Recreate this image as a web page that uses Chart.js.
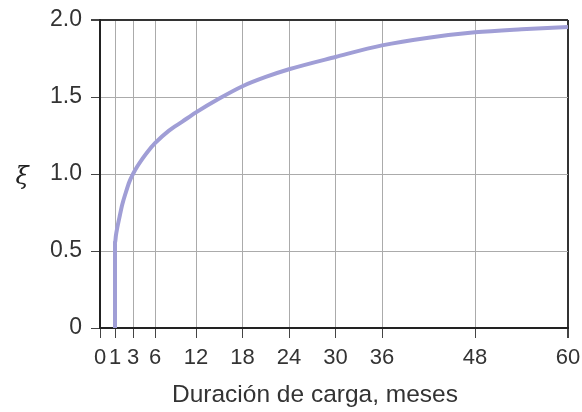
<!DOCTYPE html>
<html>
<head>
<meta charset="utf-8">
<script src="https://cdn.jsdelivr.net/npm/chart.js@4"></script>
<style>
  html, body { margin: 0; padding: 0; background: #fff; }
  #wrap { width: 582px; height: 412px; }
</style>
</head>
<body>
<div id="wrap"><canvas id="chart" width="582" height="412"></canvas></div>
<script>
// Data
const months = [1, 1, 1.1, 1.25, 1.5, 1.8, 2.2, 2.6, 3, 3.6, 4.3, 5, 6, 8, 10, 12, 15, 18, 21, 24, 30, 36, 42, 48, 54, 60];
const xi = [0, 0.55, 0.6, 0.65, 0.72, 0.8, 0.88, 0.95, 1.0, 1.05, 1.1, 1.145, 1.2, 1.28, 1.34, 1.4, 1.49, 1.57, 1.63, 1.68, 1.76, 1.835, 1.885, 1.92, 1.94, 1.955];
const xTicks = [0, 1, 3, 6, 12, 18, 24, 30, 36, 48, 60];
const yTicks = [0, 0.5, 1.0, 1.5, 2.0];
const xTitle = "Duración de carga, meses";
const yTitle = "ξ";

// The printed axis is stretched near the start (0..12 months)
const stretchKnots = [[0, 0], [1, 15], [3, 33], [6, 55], [12, 96], [60, 468]];

function warp(v) {
  for (let i = 1; i < stretchKnots.length; i++) {
    const a = stretchKnots[i - 1], b = stretchKnots[i];
    if (v <= b[0] || i === stretchKnots.length - 1) {
      return a[1] + (v - a[0]) * (b[1] - a[1]) / (b[0] - a[0]);
    }
  }
}
function unwarp(p) {
  for (let i = 1; i < stretchKnots.length; i++) {
    const a = stretchKnots[i - 1], b = stretchKnots[i];
    if (p <= b[1] || i === stretchKnots.length - 1) {
      return a[0] + (p - a[1]) * (b[0] - a[0]) / (b[1] - a[1]);
    }
  }
}

class StretchScale extends Chart.LinearScale {
  getPixelForValue(value) {
    if (value === null || value === undefined) return NaN;
    return this.getPixelForDecimal((warp(value) - warp(this.min)) / (warp(this.max) - warp(this.min)));
  }
  getValueForPixel(pixel) {
    const d = this.getDecimalForPixel(pixel);
    return unwarp(warp(this.min) + d * (warp(this.max) - warp(this.min)));
  }
}
StretchScale.id = "stretch";
StretchScale.defaults = Chart.LinearScale.defaults;
Chart.register(StretchScale);

const fontFamily = "'Liberation Sans', Arial, Helvetica, sans-serif";

// axis titles: xi at the left, x title sits a bit left of the plot centre
const axisTitles = {
  id: "axisTitles",
  afterDraw(chart) {
    const ctx = chart.ctx;
    const y = chart.scales.y.getPixelForValue(1.0);
    ctx.save();
    ctx.font = "italic 24px 'DejaVu Serif', 'Liberation Serif', serif";
    ctx.fillStyle = "#222";
    ctx.textAlign = "center";
    ctx.textBaseline = "middle";
    ctx.fillText(yTitle, 22, y + 4);

    ctx.font = "24.5px " + fontFamily;
    ctx.fillStyle = "#333";
    ctx.fillText(xTitle, chart.chartArea.left + 215, chart.chartArea.bottom + 67);
    ctx.restore();
  },
};

function edgeColor(max, light) {
  return function (ctx) {
    return ctx.tick && ctx.tick.value === max ? "#333" : light;
  };
}
function edgeWidth(max) {
  return function (ctx) {
    return ctx.tick && ctx.tick.value === max ? 2 : 1;
  };
}

const ctx = document.getElementById("chart").getContext("2d");
new Chart(ctx, {
  type: "line",
  data: {
    datasets: [
      {
        data: months.map((m, i) => ({ x: m, y: xi[i] })),
        borderColor: "#a09ed6",
        borderWidth: 4,
        pointRadius: 0,
        cubicInterpolationMode: "monotone",
        fill: false,
      },
    ],
  },
  options: {
    responsive: false,
    animation: false,
    layout: { padding: { top: 20, right: 14, left: 0, bottom: 0 } },
    plugins: { legend: { display: false }, tooltip: { enabled: false } },
    scales: {
      x: {
        type: "stretch",
        min: 0,
        max: 60,
        afterBuildTicks: (scale) => {
          scale.ticks = xTicks.map((v) => ({ value: v }));
        },
        afterFit: (scale) => {
          scale.height = 84;
          scale.paddingLeft = 0;
          scale.paddingRight = 0;
        },
        grid: {
          color: edgeColor(60, "#ababab"),
          lineWidth: edgeWidth(60),
          tickColor: "#444",
          tickLength: 10,
        },
        border: { color: "#222", width: 2 },
        ticks: {
          autoSkip: false,
          maxRotation: 0,
          padding: 7,
          color: "#333",
          font: { family: fontFamily, size: 22 },
          callback: (v) => String(v),
        },
      },
      y: {
        min: 0,
        max: 2,
        afterBuildTicks: (scale) => {
          scale.ticks = yTicks.map((v) => ({ value: v }));
        },
        afterFit: (scale) => {
          scale.width = 100;
          scale.paddingTop = 0;
          scale.paddingBottom = 0;
        },
        grid: {
          color: edgeColor(2, "#ababab"),
          lineWidth: edgeWidth(2),
          tickColor: "#444",
          tickLength: 9,
        },
        border: { color: "#222", width: 2 },
        ticks: {
          padding: 9,
          color: "#333",
          font: { family: fontFamily, size: 23 },
          callback: (v) => (v === 0 ? "0" : v.toFixed(1)),
        },
      },
    },
  },
  plugins: [axisTitles],
});
</script>
</body>
</html>
